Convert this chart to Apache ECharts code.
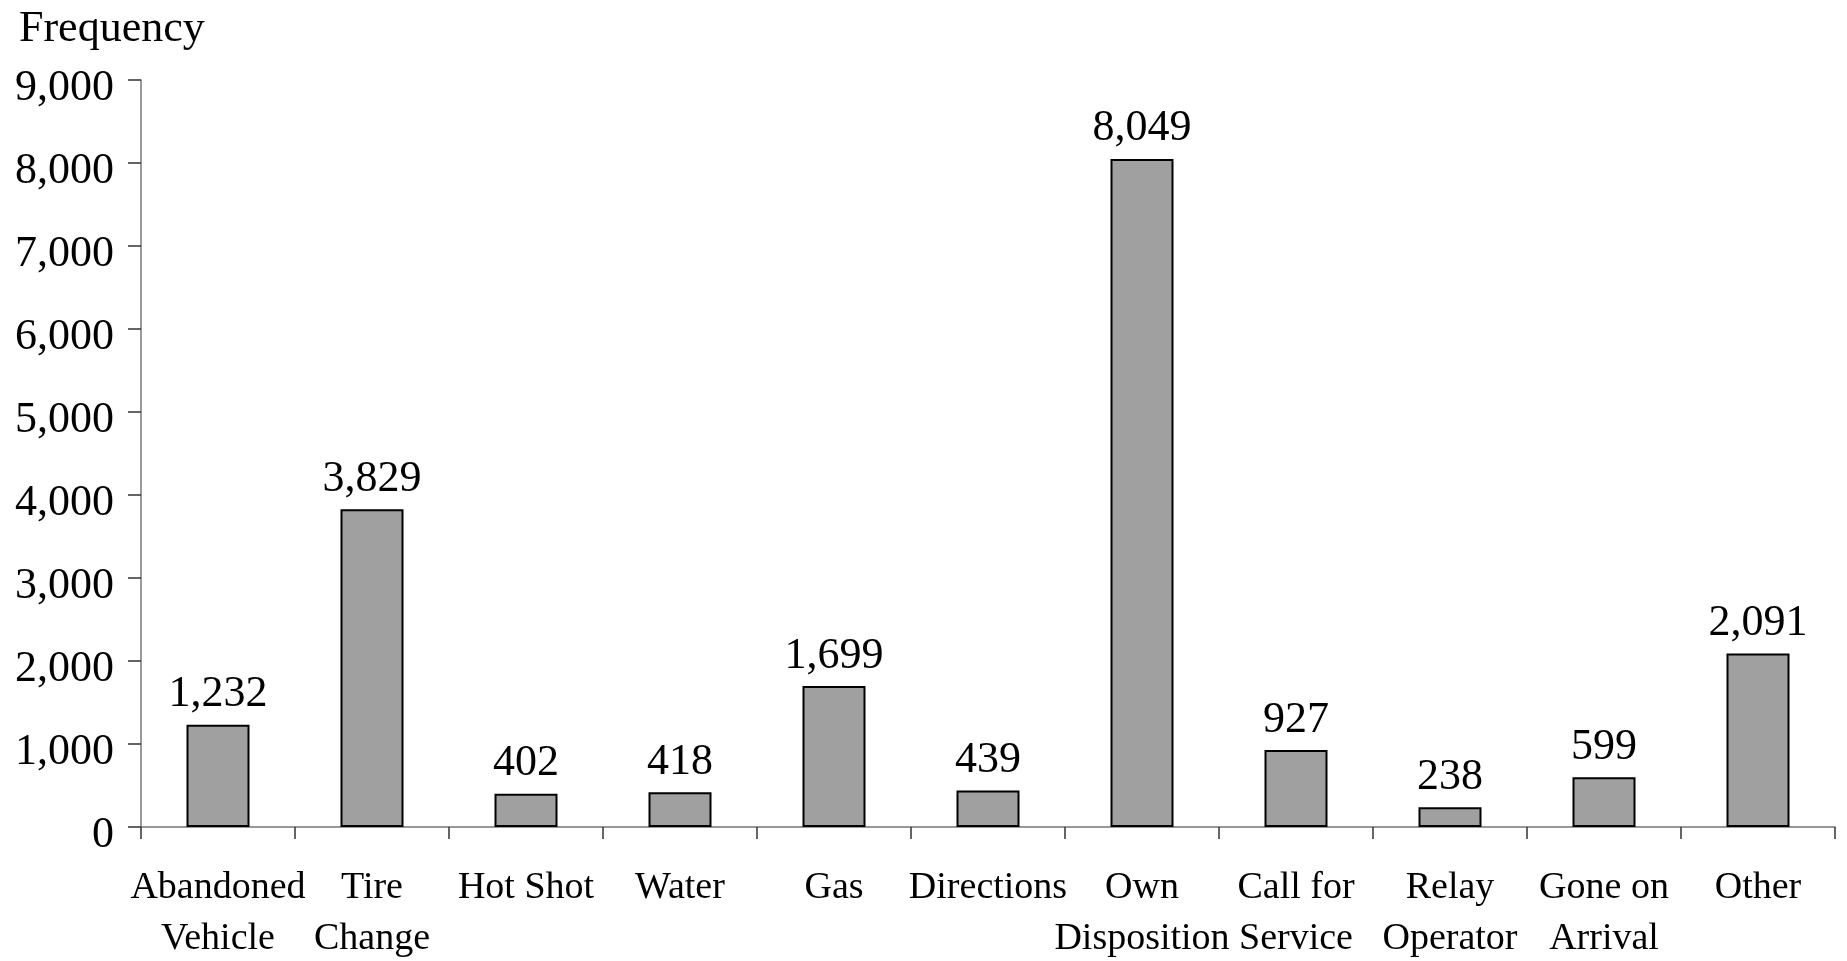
<!DOCTYPE html>
<html>
<head>
<meta charset="utf-8">
<script src="https://cdn.jsdelivr.net/npm/echarts@6/dist/echarts.min.js"></script>
<style>
html,body{margin:0;padding:0;background:#fff;}
#chart{width:1847px;height:961px;}
</style>
</head>
<body>
<div id="chart"></div>
<script>
const categories = ["Abandoned\nVehicle", "Tire\nChange", "Hot Shot", "Water", "Gas", "Directions", "Own\nDisposition", "Call for\nService", "Relay\nOperator", "Gone on\nArrival", "Other"];
const frequencies = [1232, 3829, 402, 418, 1699, 439, 8049, 927, 238, 599, 2091];
const yAxisTitle = "Frequency";
const yMin = 0, yMax = 9000, yStep = 1000;

const FONT = "'Liberation Serif', 'Times New Roman', serif";
const fmt = v => Number(v).toLocaleString('en-US');

const chart = echarts.init(document.getElementById('chart'));
chart.setOption({
  animation: false,
  backgroundColor: '#ffffff',
  title: {
    text: yAxisTitle,
    left: 14, top: 2,
    textStyle: {fontFamily: FONT, fontSize: 44, fontWeight: 'normal', color: '#000'}
  },
  grid: {left: 141, right: 12, top: 80, bottom: 134, containLabel: false, outerBoundsMode: 'none'},
  xAxis: {
    type: 'category',
    data: categories,
    boundaryGap: true,
    axisLine: {show: true, lineStyle: {color: '#777', width: 1.5}},
    axisTick: {show: true, alignWithLabel: false, length: 12, lineStyle: {color: '#333', width: 1.5}},
    axisLabel: {
      interval: 0, margin: 36,
      fontFamily: FONT, fontSize: 38, lineHeight: 51, color: '#000'
    },
    splitLine: {show: false}
  },
  yAxis: {
    type: 'value',
    min: yMin, max: yMax, interval: yStep,
    axisLine: {show: true, lineStyle: {color: '#777', width: 1.5}},
    axisTick: {show: true, inside: false, length: 13, lineStyle: {color: '#333', width: 1.5}},
    axisLabel: {
      margin: 27, fontFamily: FONT, fontSize: 44, color: '#000',
      verticalAlign: 'top', lineHeight: 16,
      formatter: v => fmt(v)
    },
    splitLine: {show: false}
  },
  series: [{
    type: 'bar',
    data: frequencies,
    barWidth: 63,
    itemStyle: {color: '#a0a0a0', borderColor: '#000', borderWidth: 2},
    label: {
      show: true, position: 'top', distance: 8,
      fontFamily: FONT, fontSize: 44, color: '#000',
      formatter: p => fmt(p.value)
    }
  }]
});
</script>
</body>
</html>
